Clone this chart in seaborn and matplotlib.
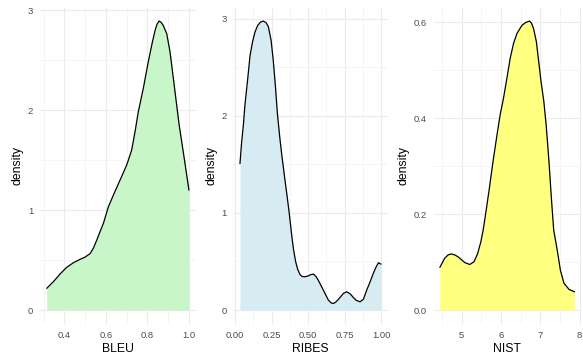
import matplotlib
matplotlib.use("Agg")
import matplotlib.pyplot as plt
from matplotlib.ticker import FixedLocator
import seaborn as sns

sns.set_theme(style="whitegrid")
plt.rcParams['font.family'] = ['Liberation Sans', 'DejaVu Sans']

# density curves
bleu_x = [0.315, 0.347, 0.379, 0.411, 0.443, 0.475, 0.500, 0.524, 0.540, 0.556,
          0.572, 0.588, 0.612, 0.636, 0.668, 0.700, 0.724, 0.740, 0.756, 0.780,
          0.804, 0.824, 0.837, 0.846, 0.856, 0.866, 0.876, 0.893, 0.909, 0.925,
          0.941, 0.953, 0.975, 1.000]
bleu_y = [0.217, 0.283, 0.360, 0.427, 0.473, 0.507, 0.530, 0.565, 0.620, 0.700,
          0.785, 0.867, 1.033, 1.150, 1.300, 1.450, 1.600, 1.780, 1.983, 2.217,
          2.483, 2.683, 2.800, 2.860, 2.893, 2.880, 2.850, 2.767, 2.583, 2.317,
          2.050, 1.850, 1.550, 1.200]

ribes_x = [0.034, 0.045, 0.057, 0.068, 0.087, 0.103, 0.120, 0.137, 0.155, 0.175,
           0.194, 0.212, 0.228, 0.247, 0.262, 0.276, 0.290, 0.305, 0.320, 0.342,
           0.357, 0.372, 0.386, 0.400, 0.415, 0.429, 0.445, 0.461, 0.480, 0.502,
           0.520, 0.537, 0.555, 0.571, 0.605, 0.639, 0.660, 0.674, 0.690, 0.708,
           0.742, 0.765, 0.790, 0.810, 0.830, 0.856, 0.879, 0.902, 0.925, 0.947,
           0.965, 0.982, 1.000]
ribes_y = [1.507, 1.720, 1.900, 2.110, 2.380, 2.620, 2.760, 2.863, 2.930, 2.965,
           2.976, 2.960, 2.920, 2.780, 2.570, 2.320, 2.030, 1.800, 1.600, 1.340,
           1.170, 0.990, 0.800, 0.630, 0.500, 0.420, 0.365, 0.345, 0.343, 0.352,
           0.365, 0.370, 0.345, 0.305, 0.205, 0.103, 0.072, 0.068, 0.082, 0.110,
           0.171, 0.188, 0.165, 0.130, 0.100, 0.085, 0.110, 0.206, 0.290, 0.378,
           0.440, 0.487, 0.473]

nist_x = [4.450, 4.573, 4.660, 4.744, 4.830, 4.913, 5.000, 5.084, 5.210, 5.320,
          5.410, 5.490, 5.550, 5.620, 5.700, 5.800, 5.900, 5.980, 6.064, 6.151,
          6.235, 6.320, 6.407, 6.534, 6.630, 6.729, 6.780, 6.830, 6.900, 6.960,
          7.020, 7.090, 7.150, 7.220, 7.280, 7.340, 7.430, 7.510, 7.600, 7.730,
          7.870]
nist_y = [0.089, 0.108, 0.115, 0.117, 0.115, 0.111, 0.105, 0.099, 0.095, 0.101,
          0.118, 0.142, 0.167, 0.205, 0.250, 0.310, 0.365, 0.407, 0.441, 0.483,
          0.525, 0.556, 0.577, 0.594, 0.600, 0.603, 0.598, 0.587, 0.560, 0.518,
          0.476, 0.435, 0.385, 0.310, 0.235, 0.167, 0.125, 0.083, 0.056, 0.043,
          0.038]

# tick breaks and labels
bleu_xticks = [0.4, 0.6, 0.8, 1.0]
bleu_xlabels = ['0.4', '0.6', '0.8', '1.0']
bleu_yticks = [0, 1, 2, 3]
bleu_ylabels = ['0', '1', '2', '3']

ribes_xticks = [0.0, 0.25, 0.5, 0.75, 1.0]
ribes_xlabels = ['0.00', '0.25', '0.50', '0.75', '1.00']
ribes_yticks = [0, 1, 2, 3]
ribes_ylabels = ['0', '1', '2', '3']

nist_xticks = [5, 6, 7, 8]
nist_xlabels = ['5', '6', '7', '8']
nist_yticks = [0.0, 0.2, 0.4, 0.6]
nist_ylabels = ['0.0', '0.2', '0.4', '0.6']

panels = [
    ('BLEU', bleu_x, bleu_y, '#c8f6c8', bleu_xticks, bleu_xlabels, bleu_yticks, bleu_ylabels,
     [0.0679, 0.0936, 0.2684, 0.888]),
    ('RIBES', ribes_x, ribes_y, '#d6ebf2', ribes_xticks, ribes_xlabels, ribes_yticks, ribes_ylabels,
     [0.3995, 0.0936, 0.2662, 0.888]),
    ('NIST', nist_x, nist_y, '#ffff80', nist_xticks, nist_xlabels, nist_yticks, nist_ylabels,
     [0.7429, 0.0936, 0.2542, 0.888]),
]

fig = plt.figure(figsize=(5.83, 3.58), dpi=100)

for name, xs, ys, fill, xt, xl, yt, yl, rect in panels:
    ax = fig.add_axes(rect)
    ax.fill_between(xs, ys, 0, color=fill, linewidth=0)
    sns.lineplot(x=xs, y=ys, ax=ax, color='black', linewidth=0.9,
                 sort=False, estimator=None)

    # ggplot-like 5% expansion
    xr = max(xs) - min(xs)
    ax.set_xlim(min(xs) - 0.05 * xr, max(xs) + 0.05 * xr)
    yr = max(ys)
    ax.set_ylim(-0.05 * yr, yr * 1.05)

    ax.xaxis.set_major_locator(FixedLocator(xt))
    ax.yaxis.set_major_locator(FixedLocator(yt))
    ax.set_xticklabels(xl)
    ax.set_yticklabels(yl)
    ax.xaxis.set_minor_locator(FixedLocator(
        [xt[0] - (xt[1] - xt[0]) / 2] + [(a + b) / 2 for a, b in zip(xt[:-1], xt[1:])]))
    ax.yaxis.set_minor_locator(FixedLocator(
        [(a + b) / 2 for a, b in zip(yt[:-1], yt[1:])]))

    ax.grid(which='major', color='#ebebeb', linewidth=0.8)
    ax.grid(which='minor', color='#f2f2f2', linewidth=0.5)
    ax.set_axisbelow(True)
    ax.set_facecolor('white')
    for s in ax.spines.values():
        s.set_visible(False)
    ax.tick_params(which='both', length=0, labelsize=6.8, colors='#4d4d4d', pad=4.5)

    ax.set_xlabel(name, fontsize=8.8, color='black', labelpad=2)
    ax.set_ylabel('density', fontsize=8.8, color='black', labelpad=3)

plt.savefig('out.png', dpi=100)
